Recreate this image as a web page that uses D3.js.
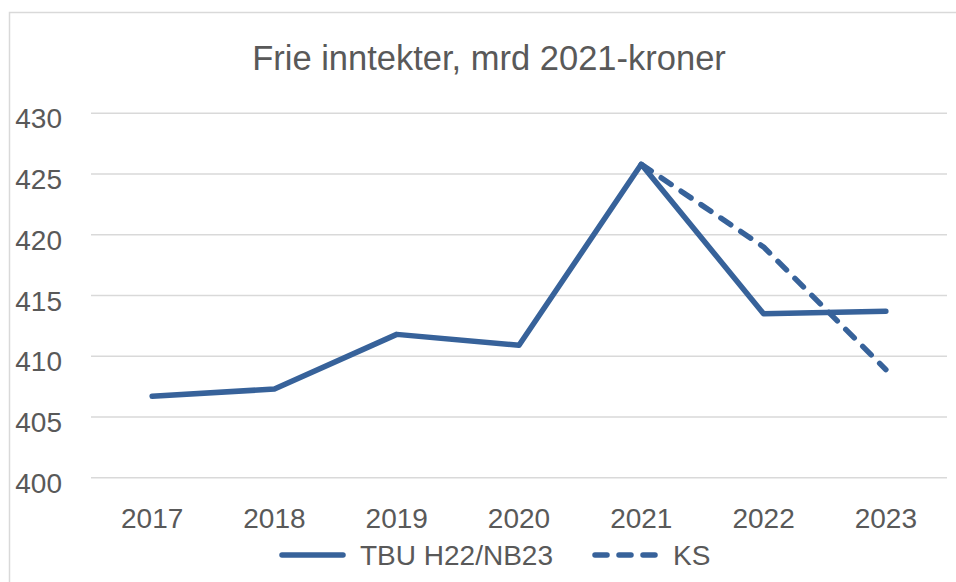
<!DOCTYPE html>
<html>
<head>
<meta charset="utf-8">
<script src="https://cdn.jsdelivr.net/npm/d3@7"></script>
<style>
  body { margin: 0; background: #fff; }
  text { font-family: "Liberation Sans", Arial, sans-serif; fill: #595959; }
</style>
</head>
<body>
<script>
// values
var years = ["2017", "2018", "2019", "2020", "2021", "2022", "2023"];
var tbu = [406.7, 407.3, 411.8, 410.9, 425.8, 413.5, 413.7];
var ks = [null, null, null, null, 425.8, 419.0, 408.9];
var yTicks = [400, 405, 410, 415, 420, 425, 430];
var seriesNames = ["TBU H22/NB23", "KS"];

var width = 956,
    height = 582;

var blue = "#37629a";

var svg = d3.select("body").append("svg")
    .attr("width", width)
    .attr("height", height);

// chart frame (only top and left show in the picture)
svg.append("rect")
    .attr("x", 9.5)
    .attr("y", 12.5)
    .attr("width", 1000)
    .attr("height", 1000)
    .attr("fill", "none")
    .attr("stroke", "#d9d9d9")
    .attr("stroke-width", 1.5);

var x = d3.scaleBand()
    .domain(years)
    .range([91, 947]);

var y = d3.scaleLinear()
    .domain([400, 430])
    .range([477.7, 113.3]);

function cx(d) { return x(d) + x.bandwidth() / 2; }

svg.append("text")
    .attr("x", 489)
    .attr("y", 70)
    .attr("text-anchor", "middle")
    .style("font-size", "34.5px")
    .text("Frie inntekter, mrd 2021-kroner");

// gridlines
svg.append("g")
    .selectAll("line")
    .data(yTicks)
  .enter().append("line")
    .attr("x1", 91)
    .attr("x2", 947)
    .attr("y1", function(d) { return y(d); })
    .attr("y2", function(d) { return y(d); })
    .attr("stroke", "#d9d9d9")
    .attr("stroke-width", 1.5);

// y axis labels
svg.append("g")
    .selectAll("text")
    .data(yTicks)
  .enter().append("text")
    .attr("x", 62)
    .attr("y", function(d) { return y(d); })
    .attr("dy", 15)
    .attr("text-anchor", "end")
    .style("font-size", "28px")
    .text(function(d) { return d; });

// x axis labels
svg.append("g")
    .selectAll("text")
    .data(years)
  .enter().append("text")
    .attr("x", cx)
    .attr("y", 528)
    .attr("text-anchor", "middle")
    .style("font-size", "28px")
    .text(function(d) { return d; });

var line = d3.line()
    .defined(function(d) { return d[1] != null; })
    .x(function(d) { return cx(d[0]); })
    .y(function(d) { return y(d[1]); });

svg.append("path")
    .datum(d3.zip(years, tbu))
    .attr("d", line)
    .attr("fill", "none")
    .attr("stroke", blue)
    .attr("stroke-width", 5.5)
    .attr("stroke-linejoin", "round")
    .attr("stroke-linecap", "round");

svg.append("path")
    .datum(d3.zip(years, ks))
    .attr("d", line)
    .attr("fill", "none")
    .attr("stroke", blue)
    .attr("stroke-width", 5.5)
    .attr("stroke-dasharray", "12,12")
    .attr("stroke-linejoin", "round")
    .attr("stroke-linecap", "round");

// legend
var legend = svg.append("g");
var legendItems = [
    {name: seriesNames[0], x: 280, dash: null},
    {name: seriesNames[1], x: 593, dash: "12,12"}
];
legendItems.forEach(function(it) {
    legend.append("line")
        .attr("x1", it.x + 2)
        .attr("x2", it.x + 63)
        .attr("y1", 555)
        .attr("y2", 555)
        .attr("stroke", blue)
        .attr("stroke-width", 5.5)
        .attr("stroke-linecap", "round")
        .attr("stroke-dasharray", it.dash);
    legend.append("text")
        .attr("x", it.x + 80)
        .attr("y", 565)
        .style("font-size", "28px")
        .text(it.name);
});
</script>
</body>
</html>
